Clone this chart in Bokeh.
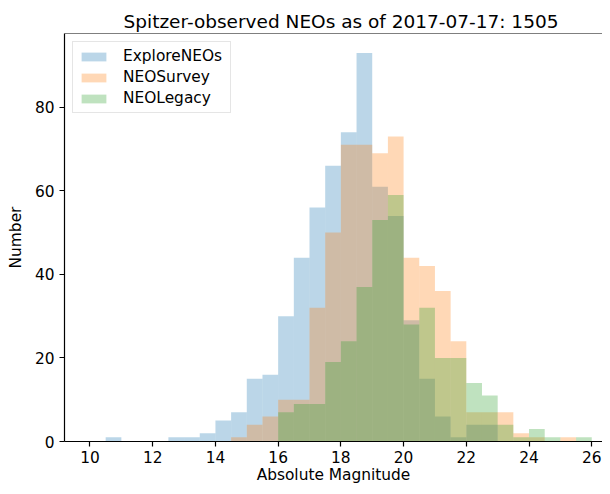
from bokeh.plotting import figure
from bokeh.models import ColumnDataSource, FixedTicker, Span
from bokeh.embed import file_html
from bokeh.resources import INLINE

# ---- data -------------------------------------------------------------
bin_edges = [10.0, 10.5, 11.0, 11.5, 12.0, 12.5, 13.0, 13.5, 14.0, 14.5,
             15.0, 15.5, 16.0, 16.5, 17.0, 17.5, 18.0, 18.5, 19.0, 19.5,
             20.0, 20.5, 21.0, 21.5, 22.0, 22.5, 23.0, 23.5, 24.0, 24.5,
             25.0, 25.5, 26.0]

explore_neos = [0, 1, 0, 0, 0, 1, 1, 2, 5, 7,
                15, 16, 30, 44, 56, 66, 74, 93, 61, 54,
                29, 15, 6, 1, 4, 4, 0, 0, 0, 0,
                0, 0]
neo_survey = [0, 0, 0, 0, 0, 0, 0, 0, 0, 1,
              4, 6, 10, 10, 32, 50, 71, 71, 69, 73,
              44, 42, 36, 24, 7, 7, 7, 2, 1, 0,
              1, 0]
neo_legacy = [0, 0, 0, 0, 0, 0, 0, 0, 0, 0,
              0, 0, 7, 9, 9, 19, 24, 37, 53, 59,
              28, 32, 20, 20, 14, 11, 4, 1, 3, 1,
              0, 1]

series_names = ["ExploreNEOs", "NEOSurvey", "NEOLegacy"]
series_counts = [explore_neos, neo_survey, neo_legacy]
series_colors = ["#1f77b4", "#ff7f0e", "#2ca02c"]

x_ticks = [10, 12, 14, 16, 18, 20, 22, 24, 26]
y_ticks = [0, 20, 40, 60, 80]

title_text = "Spitzer-observed NEOs as of 2017-07-17: 1505"
x_label = "Absolute Magnitude"
y_label = "Number"

# ---- figure -----------------------------------------------------------
FONT = "DejaVu Sans"
y_top = max(max(c) for c in series_counts) * 1.05

p = figure(width=602, height=486, output_backend="svg", toolbar_location=None,
           x_range=(9.187, 26.343), y_range=(0, y_top),
           min_border_left=64, min_border_right=0,
           min_border_top=33, min_border_bottom=41)

p.title.text = title_text
p.title.text_font = FONT
p.title.text_font_size = "18.5px"
p.title.text_font_style = "normal"
p.title.text_color = "black"
p.title.align = "left"
p.title.offset = 59
p.title.standoff = 4

p.grid.visible = False
p.outline_line_color = None
p.background_fill_color = "white"
p.border_fill_color = "white"

left_edges = bin_edges[:-1]
right_edges = bin_edges[1:]
for name, counts, color in zip(series_names, series_counts, series_colors):
    src = ColumnDataSource(dict(left=left_edges, right=right_edges,
                                top=counts, bottom=[0] * len(counts)))
    p.quad(left="left", right="right", top="top", bottom="bottom", source=src,
           fill_color=color, fill_alpha=0.3, line_color=None,
           legend_label=name)

# top spine
p.add_layout(Span(location=y_top, dimension="width", line_color="black",
                  line_width=1.2))

for ax, ticks, lab in ((p.xaxis[0], x_ticks, x_label), (p.yaxis[0], y_ticks, y_label)):
    ax.ticker = FixedTicker(ticks=ticks)
    ax.axis_label = lab
    ax.axis_label_text_font = FONT
    ax.axis_label_text_font_size = "15.4px"
    ax.axis_label_text_font_style = "normal"
    ax.axis_label_text_color = "black"
    ax.major_label_text_font = FONT
    ax.major_label_text_font_size = "15.4px"
    ax.major_label_text_color = "black"
    ax.major_tick_in = 0
    ax.major_tick_out = 5
    ax.major_tick_line_width = 1.2
    ax.major_tick_line_color = "black"
    ax.minor_tick_line_color = None
    ax.axis_line_color = "black"
    ax.axis_line_width = 1.2

p.xaxis[0].major_label_standoff = 4
p.xaxis[0].axis_label_standoff = 0
p.yaxis[0].major_label_standoff = 5
p.yaxis[0].axis_label_standoff = 7

leg = p.legend[0]
leg.location = "top_left"
leg.margin = 8
leg.padding = 5
leg.spacing = 3
leg.glyph_width = 31
leg.glyph_height = 11
leg.label_height = 16
leg.label_width = 102
leg.label_standoff = 14
leg.label_text_font = FONT
leg.label_text_font_size = "15.4px"
leg.label_text_color = "black"
leg.border_line_color = "#cccccc"
leg.border_line_width = 1
leg.background_fill_color = "white"
leg.background_fill_alpha = 0.8

open("out.html", "w").write(file_html(p, INLINE))
